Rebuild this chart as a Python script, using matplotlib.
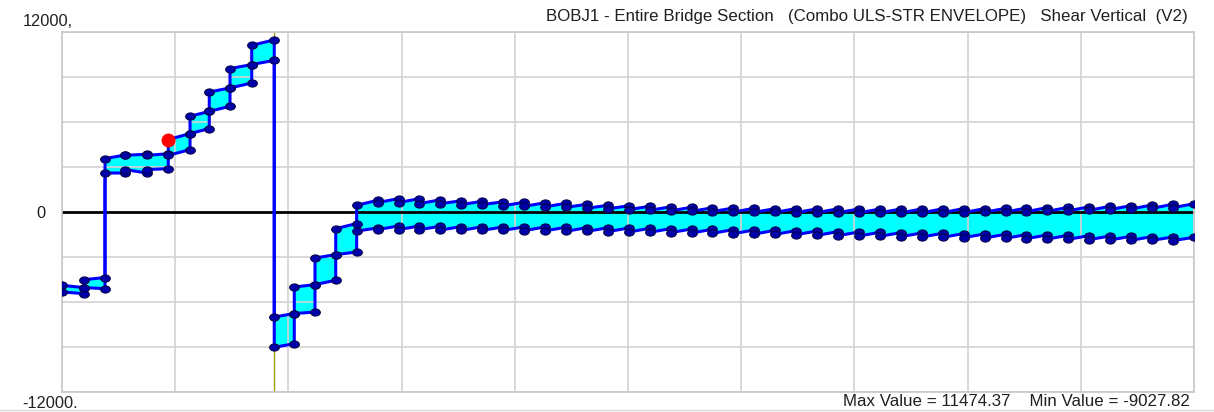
import matplotlib
matplotlib.use("Agg")
import matplotlib.pyplot as plt
from matplotlib.markers import MarkerStyle
from matplotlib.transforms import Affine2D
from matplotlib.lines import Line2D

# station positions along the bridge (plot units, 0..100)
stations = [0.0, 1.94, 3.80, 5.57, 7.48, 9.39, 11.31, 13.01, 14.84, 16.76,
            18.75, 20.52, 22.35, 24.18, 26.03, 27.88, 29.73, 31.58, 33.43, 35.28,
            37.12, 38.97, 40.82, 42.67, 44.52, 46.37, 48.22, 50.07, 51.92, 53.77,
            55.61, 57.46, 59.31, 61.16, 63.01, 64.86, 66.71, 68.56, 70.41, 72.26,
            74.10, 75.95, 77.80, 79.65, 81.50, 83.35, 85.20, 87.05, 88.90, 90.75,
            92.59, 94.44, 96.29, 98.14, 100.0]

# envelope values per element (start / end of each element)
max_start = [-4890, -4510, 3560, 3780, 3780, 4830, 6380, 8000, 9560, 11110,
             -7000, -5000, -3070, -1110,
             447, 627, 627, 560, 560, 493, 493, 413, 380, 347,
             313, 247, 213, 160, 113, 80, 47, 27, 0, -20,
             -20, -40, -40, -40, -53, -53, -53, -53, -40, -40,
             -20, 0, 27, 47, 80, 113, 160, 200, 247, 293]
max_end = [-5040, -4370, 3800, 3850, 3880, 5230, 6710, 8270, 9830, 11474.37,
           -6770, -4840, -2840, -770,
           780, 893, 893, 813, 747, 713, 680, 647, 613, 580,
           513, 447, 413, 380, 347, 313, 280, 267, 247, 227,
           227, 213, 213, 200, 200, 200, 200, 213, 227, 227,
           247, 267, 293, 313, 347, 380, 427, 467, 513, 547]
min_start = [-5330, -5040, 2600, 2830, 2830, 3780, 5230, 6710, 8270, 9830,
             -9027.82, -6770, -4840, -2840,
             -1267, -1173, -1173, -1173, -1200, -1220, -1220, -1220, -1240, -1253,
             -1287, -1287, -1307, -1333, -1353, -1373, -1400, -1420, -1440, -1467,
             -1487, -1507, -1553, -1573, -1600, -1620, -1640, -1667, -1687, -1707,
             -1733, -1753, -1773, -1800, -1820, -1840, -1867, -1887, -1887, -1907]
min_end = [-5440, -5110, 2600, 2600, 2890, 4160, 5560, 7050, 8600, 10110,
           -8770, -6670, -4550, -2670,
           -1067, -933, -933, -953, -973, -987, -1000, -1000, -1000, -1020,
           -1040, -1053, -1067, -1087, -1107, -1133, -1153, -1173, -1200, -1220,
           -1240, -1267, -1307, -1333, -1353, -1373, -1400, -1420, -1440, -1467,
           -1487, -1507, -1533, -1553, -1573, -1600, -1620, -1640, -1667, -1687]

support_station = 10
selected_station = 5

title = "BOBJ1 - Entire Bridge Section   (Combo ULS-STR ENVELOPE)   Shear Vertical  (V2)"
summary = "Max Value = 11474.37    Min Value = -9027.82"

# build envelope polylines (duplicate x where values jump)
xs, top, bot = [], [], []
for i in range(len(max_start)):
    xs += [stations[i], stations[i + 1]]
    top += [max_start[i], max_end[i]]
    bot += [min_start[i], min_end[i]]

plt.rcParams['font.family'] = ['Liberation Sans', 'DejaVu Sans']

W, H = 1214, 412
fig = plt.figure(figsize=(W / 100, H / 100), dpi=100)
ax = fig.add_axes([62 / W, 20 / H, 1132 / W, 360 / H])
ax.set_xlim(0, 100)
ax.set_ylim(-12000, 12000)
ax.set_xticks(range(0, 101, 10))
ax.set_yticks(range(-12000, 12001, 3000))
ax.tick_params(length=0, labelbottom=False, labelleft=False)
ax.set_axisbelow('line')
ax.grid(color='#d2d2d2', lw=1.2)
for s in ax.spines.values():
    s.set_color('#c8c8c8')
    s.set_linewidth(1.2)

ax.fill_between(xs, bot, top, color='#00ffff', lw=0, zorder=1)
ax.axhline(0, color='black', lw=2, zorder=2)
ax.axvline(stations[support_station], color='#a0a000', lw=1, zorder=2.5)
ax.plot(xs, top, color='#0000ff', lw=2.2, zorder=3)
ax.plot(xs, bot, color='#0000ff', lw=2.2, zorder=3)

dot = MarkerStyle('o', transform=Affine2D().scale(1.35, 1.0))
for ys in (top, bot):
    ax.plot(xs, ys, ls='none', marker=dot, ms=5.2, mfc='#0000a8',
            mec='#000040', mew=0.7, zorder=4)
ax.plot(stations[selected_station], max_start[selected_station], 'o',
        color='#ff0000', ms=9, zorder=5)

fs = 11.8
fig.text(23 / W, 1 - 22 / H, "12000,", ha='left', va='center', fontsize=fs, color='#202020')
fig.text(36 / W, 1 - 213 / H, "0", ha='left', va='center', fontsize=fs, color='#202020')
fig.text(22 / W, 1 - 403 / H, "-12000.", ha='left', va='center', fontsize=fs, color='#202020')
fig.text(1188 / W, 1 - 17 / H, title, ha='right', va='center', fontsize=12.2, color='#202020')
fig.text(1190 / W, 1 - 402 / H, summary, ha='right', va='center', fontsize=12.2, color='#202020')
fig.add_artist(Line2D([0, 1], [1 - 410 / H, 1 - 410 / H], color='#d8d8d8', lw=1))

fig.savefig('out.png', dpi=100)
